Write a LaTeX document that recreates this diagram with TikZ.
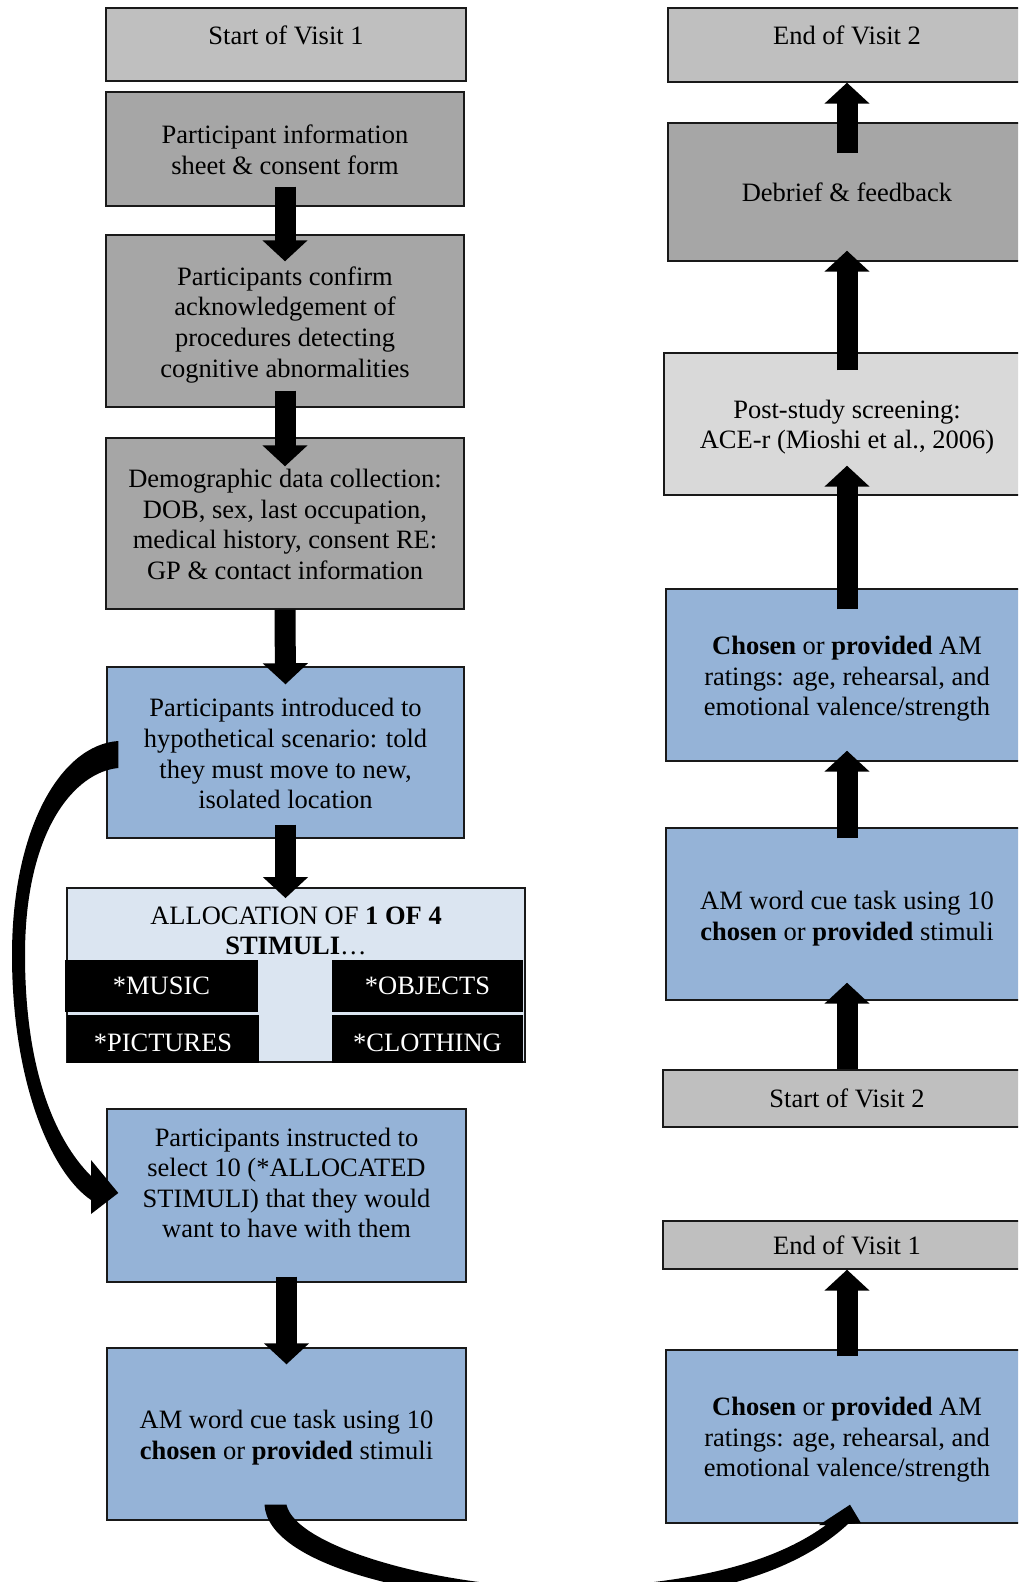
\documentclass[tikz,border=0pt]{standalone}
\usepackage{fontspec}
\setmainfont{Liberation Serif}
\usetikzlibrary{arrows.meta,positioning}

\definecolor{visitgray}{HTML}{BFBFBF}
\definecolor{stepgray}{HTML}{A6A6A6}
\definecolor{screengray}{HTML}{D9D9D9}
\definecolor{taskblue}{HTML}{95B3D7}
\definecolor{allocblue}{HTML}{DBE5F1}

% taller first line pushes a centred text block down
\newcommand\lowtext[1]{\rule{0pt}{#1}}

\tikzset{
	box/.style={draw=black!90, line width=1.4pt, align=center, inner sep=0pt,
		font=\fontsize{26.5}{30.6}\selectfont},
	txt/.style={align=center, inner sep=0pt, font=\fontsize{26.5}{30.6}\selectfont},
	stim/.style={fill=black, text=white, inner sep=0pt, font=\fontsize{26.5}{30.6}\selectfont},
	blk/.style={line width=21pt, -{Triangle[width=44pt 0 0,length=21pt 0 0]}},
}

\begin{document}
\begin{tikzpicture}[x=1pt,y=-1pt]
	\useasboundingbox (0,0) rectangle (1018,1582);
	\clip (0,0) rectangle (1018,1582);

	% visit 1
	\node[box,fill=visitgray,minimum width=360pt,minimum height=73pt,text depth=18pt] (start1) at (286,44.5) {Start of Visit 1};
	\node[box,fill=stepgray,minimum width=358pt,minimum height=114pt] (info) at (285,149) {\lowtext{20pt}Participant information\\sheet \& consent form};
	\node[box,fill=stepgray,minimum width=358pt,minimum height=172pt] (conf) at (285,321) {\lowtext{26pt}Participants confirm\\acknowledgement of\\procedures detecting\\cognitive abnormalities};
	\node[box,fill=stepgray,minimum width=358pt,minimum height=171pt] (demo) at (285,523.5) {\lowtext{20pt}Demographic data collection:\\DOB, sex, last occupation,\\medical history, consent RE:\\GP \& contact information};
	\node[box,fill=taskblue,minimum width=357pt,minimum height=171pt] (intro) at (285.5,752.5) {\lowtext{21pt}Participants introduced to\\hypothetical scenario: told\\they must move to new,\\isolated location};

	\node[box,fill=allocblue,line width=1.8pt,minimum width=458pt,minimum height=174pt] (alloc) at (296,975) {};
	\node[txt] (alloc-t) at (296,931) {ALLOCATION OF \textbf{1 OF 4}\\\textbf{STIMULI}…};
	\node[stim,minimum width=193pt,minimum height=52pt] (music) at (161.5,986) {*MUSIC};
	\node[stim,minimum width=191pt,minimum height=52pt] (objects) at (427.5,986) {*OBJECTS};
	\node[stim,minimum width=192pt,minimum height=48pt,text height=26pt] (pictures) at (163,1039) {*PICTURES};
	\node[stim,minimum width=191pt,minimum height=48pt,text height=26pt] (clothing) at (427.5,1039) {*CLOTHING};

	\node[box,fill=taskblue,minimum width=359pt,minimum height=173pt] (instr) at (286.5,1195.5) {};
	\node[txt] (instr-t) at (286.5,1183) {Participants instructed to\\select 10 (*ALLOCATED\\STIMULI) that they would\\want to have with them};
	\node[box,fill=taskblue,minimum width=359pt,minimum height=172pt] (amL) at (286.5,1434) {\lowtext{26pt}AM word cue task using 10\\\textbf{chosen} or \textbf{provided} stimuli};

	% visit 2
	\node[box,fill=visitgray,minimum width=358pt,minimum height=74pt,text depth=20pt] (end2) at (847,45) {End of Visit 2};
	\node[box,fill=stepgray,minimum width=358pt,minimum height=138pt] (debrief) at (847,192) {Debrief \& feedback};
	\node[box,fill=screengray,minimum width=366pt,minimum height=142pt] (post) at (847,424) {\lowtext{25pt}Post-study screening:\\ACE-r (Mioshi et al., 2006)};
	\node[box,fill=taskblue,minimum width=362pt,minimum height=172pt] (chosenT) at (847,675) {\lowtext{26pt}\textbf{Chosen} or \textbf{provided} AM\\ratings: age, rehearsal, and\\emotional valence/strength};
	\node[box,fill=taskblue,minimum width=362pt,minimum height=172pt] (amR) at (847,914) {\lowtext{28pt}AM word cue task using 10\\\textbf{chosen} or \textbf{provided} stimuli};
	\node[box,fill=visitgray,minimum width=368pt,minimum height=57pt] (start2) at (847,1098.5) {Start of Visit 2};
	\node[box,fill=visitgray,minimum width=368pt,minimum height=48pt] (end1) at (847,1245) {End of Visit 1};
	\node[box,fill=taskblue,minimum width=362pt,minimum height=173pt] (chosenB) at (847,1436.5) {\lowtext{25pt}\textbf{Chosen} or \textbf{provided} AM\\ratings: age, rehearsal, and\\emotional valence/strength};

	% block arrows
	\path ([yshift=20pt]info.south) edge[blk] ([yshift=-27pt]conf.north);
	\path ([yshift=17pt]conf.south) edge[blk] ([yshift=-29pt]demo.north);
	\path (demo.south) edge[blk] ([yshift=-18pt]intro.north);
	\path ([yshift=14pt]intro.south) edge[blk] ([yshift=-11pt]intro.south |- alloc.north);
	\path ([yshift=6pt]instr.south) edge[blk] ([yshift=-17pt]amL.north);

	\path ([yshift=-7pt]chosenB.north) edge[blk] (end1.south);
	\path (start2.north) edge[blk] ([yshift=18pt]amR.south);
	\path ([yshift=-11pt]amR.north) edge[blk] ([yshift=11pt]chosenT.south);
	\path ([yshift=-21pt]chosenT.north) edge[blk] ([yshift=30pt]post.south);
	\path ([yshift=-18pt]post.north) edge[blk] ([yshift=11pt]debrief.south);
	\path ([yshift=-31pt]debrief.north) edge[blk] (end2.south);

	% curved arrow: scenario -> instruction
	\coordinate (lcA) at ([shift={(12pt,11.5pt)}]intro.west);
	\coordinate (lcB) at ([shift={(12pt,-15.5pt)}]intro.west);
	\coordinate (lcT) at ([shift={(12pt,2.5pt)}]instr.west);
	\fill (lcA) .. controls (60,745) and (12,830) .. (12,955)
		.. controls (12,1080) and (50,1172) .. (91,1200) -- (91,1214) -- (lcT) -- (91,1160) -- (91,1176)
		.. controls (55,1140) and (25,1070) .. (25,955)
		.. controls (25,830) and (75,772) .. (lcB) -- cycle;

	% curved arrow: visit 1 task -> ratings
	\coordinate (bcA) at ([shift={(-22pt,16pt)}]amL.south);
	\coordinate (bcB) at ([shift={(0pt,16pt)}]amL.south);
	\coordinate (bcT) at ([shift={(3pt,19pt)}]chosenB.south);
	\fill (bcA) .. controls (268,1565) and (420,1601) .. (560,1603)
		.. controls (690,1602) and (790,1578) .. (848,1524) -- (861,1523) -- (bcT) -- (819,1525) -- (826,1525)
		.. controls (770,1566) and (680,1586) .. (560,1588)
		.. controls (430,1586) and (295,1545) .. (bcB) -- cycle;
\end{tikzpicture}
\end{document}
